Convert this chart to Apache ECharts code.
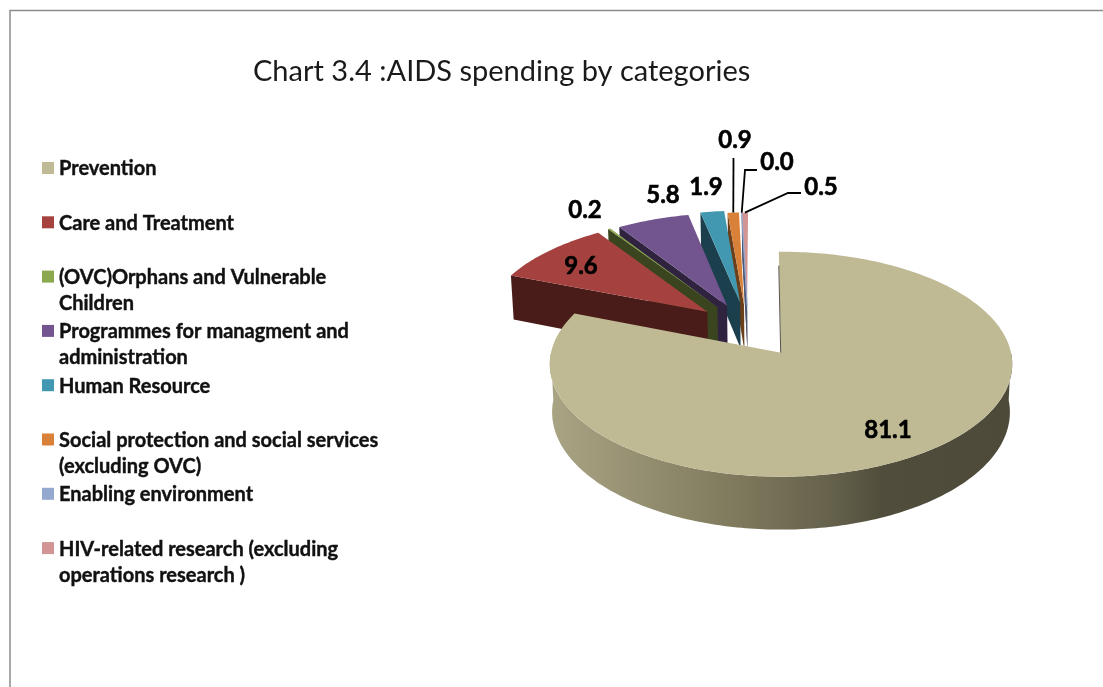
<!DOCTYPE html>
<html>
<head>
<meta charset="utf-8">
<style>html,body{margin:0;padding:0;background:#fff}#c{width:1103px;height:687px}</style>
<script src="https://cdn.jsdelivr.net/npm/echarts@6/dist/echarts.min.js"></script>
</head>
<body>
<div id="c"></div>
<script>
const categories = [
  'Prevention',
  'Care and Treatment',
  '(OVC)Orphans and Vulnerable Children',
  'Programmes for managment and administration',
  'Human Resource',
  'Social protection and social services (excluding OVC)',
  'Enabling environment',
  'HIV-related research (excluding operations research )'
];
const shares = [81.1, 9.6, 0.2, 5.8, 1.9, 0.9, 0.0, 0.5];
const legendSecondLines = ['', '', 'Children', 'administration', '', '(excluding OVC)', '', 'operations research )'];

// Colours of the top surface and of the cut face of each slice.
const topColors = ['#BFBA94', '#A5423F', '#8BA84F', '#72558E', '#4298B0', '#D98138', '#93A9CF', '#D29594'];
const faceColors = ['#55524A', '#4A1C19', '#3A451F', '#2F2340', '#1B3F4C', '#6B3F1A', '#4A5A78', '#6A4A4A'];

// Slice displacement on the pie's plane, in pie radii: [right, away from viewer].
const explode = [[0, 0], [-0.3326, 0.383], [-0.288, 0.425], [-0.245, 0.441], [-0.186, 0.468], [-0.168, 0.447], [-0.154, 0.444], [-0.154, 0.444]];
// Pixel centre of each value label.
const labelCentres = [[888, 430], [581, 266], [585, 210], [663, 195], [706, 187], [735, 140], [777, 162], [821, 187]];
// Leader polylines start at these bends and end on the slice rim.
const leaderStarts = {5: [[733.5, 158]], 6: [[757, 170], [745, 170]], 7: [[801, 193], [788, 193]]};

// Back-to-front painting order; the large slice sits in front of the others.
const paintOrder = [7, 6, 5, 4, 3, 2, 1, 0];

// Perspective view of the pie's plane.
const view = {cx: 781, cy: 352.7, rx: 230, ry: 111.3, k: 0.1022, depth: 47.5, floorScale: 0.99, startDeg: -0.6};

function topPoint(u, v) {
  const w = 1 + view.k * v;
  return [view.cx + view.rx * u / w, view.cy - view.ry * v / w];
}
function floorPoint(u, v) {
  const w = 1 + view.k * v;
  return [view.cx + view.floorScale * view.rx * u / w, view.cy - view.ry * v / w + view.depth / w];
}
function rim(index, deg, radius) {
  const a = deg * Math.PI / 180;
  return [explode[index][0] + radius * Math.sin(a), explode[index][1] + radius * Math.cos(a)];
}
function sweepOf(index) {
  const before = shares.slice(0, index).reduce((s, x) => s + x, 0);
  const startDeg = view.startDeg + before * 3.6;
  return [startDeg, startDeg + shares[index] * 3.6];
}
function arc(index, a0, a1, project) {
  const steps = Math.max(1, Math.ceil(Math.abs(a1 - a0)));
  const pts = [];
  for (let i = 0; i <= steps; i++) {
    const p = rim(index, a0 + (a1 - a0) * i / steps, 1);
    pts.push(project(p[0], p[1]));
  }
  return pts;
}
function poly(points, fill, extra) {
  return {type: 'polygon', silent: true, shape: {points}, style: Object.assign({fill}, extra || {})};
}

const wallGradient = new echarts.graphic.LinearGradient(0, 0, 1, 0, [
  {offset: 0, color: '#A9A484'},
  {offset: 0.2, color: '#958F71'},
  {offset: 0.4, color: '#7F7A5D'},
  {offset: 0.6, color: '#66624C'},
  {offset: 0.72, color: '#504D3C'},
  {offset: 1, color: '#4D4A39'}
]);

function drawSlice(index) {
  const [a0, a1] = sweepOf(index);
  const ex = explode[index];
  const apexTop = topPoint(ex[0], ex[1]);
  const apexFloor = floorPoint(ex[0], ex[1]);
  const outer = arc(index, a0, a1, topPoint);
  const children = [];
  if (index === 0) {
    // Rim wall of the large slice, then the sliver of its cut edge.
    const wallTop = arc(index, 90, 270, topPoint);
    const wallFloor = arc(index, 90, 270, floorPoint).reverse();
    children.push(poly(wallTop.concat(wallFloor), wallGradient));
    const e = rim(index, a0, 0.85);
    const edge = topPoint(e[0], e[1]);
    children.push(poly([apexTop].concat(outer), topColors[0]));
    children.push({type: 'line', silent: true,
      shape: {x1: edge[0] - 0.3, y1: edge[1], x2: apexTop[0] - 0.3, y2: apexTop[1]},
      style: {stroke: faceColors[0], lineWidth: 1}});
  } else {
    const s = rim(index, a0, 1);
    children.push(poly([topPoint(s[0], s[1]), apexTop, apexFloor, floorPoint(s[0], s[1])], faceColors[index]));
    // A zero-share slice still leaves a hairline where its edges coincide.
    children.push(poly([apexTop].concat(outer), topColors[index],
      shares[index] < 0.05 ? {stroke: topColors[index], lineWidth: 0.8} : {}));
  }
  return children;
}

function drawLabel(index, value) {
  const [x, y] = labelCentres[index];
  const children = [];
  if (leaderStarts[index]) {
    const [a0, a1] = sweepOf(index);
    const p = rim(index, (a0 + a1) / 2, 1);
    children.push({type: 'polyline', silent: true, z2: 50,
      shape: {points: leaderStarts[index].concat([topPoint(p[0], p[1])])},
      style: {stroke: '#000', lineWidth: 1.8, fill: null}});
  }
  children.push({type: 'text', silent: true, z2: 60, x, y,
    style: {text: value.toFixed(1), fill: '#000', font: 'bold 24px Lato', align: 'center', verticalAlign: 'middle',
      stroke: '#000', lineWidth: 0.6}});
  return children;
}

const series = paintOrder.map(index => ({
  type: 'custom',
  name: categories[index],
  coordinateSystem: 'none',
  silent: true,
  animation: false,
  z: 2 + paintOrder.indexOf(index),
  itemStyle: {color: topColors[index]},
  data: [[shares[index]]],
  renderItem: (params, api) => ({
    type: 'group',
    children: drawSlice(index).concat(drawLabel(index, api.value(0)))
  })
}));

const chart = echarts.init(document.getElementById('c'), null, {renderer: 'canvas'});
chart.setOption({
  backgroundColor: '#fff',
  animation: false,
  title: {
    text: 'Chart 3.4 :AIDS spending by categories',
    left: 248, top: 52,
    textStyle: {fontFamily: 'Lato', fontWeight: 'normal', fontSize: 29, color: '#1a1a1a'}
  },
  legend: {
    orient: 'vertical',
    left: 37, top: 151,
    itemGap: 2.3,
    itemWidth: 12,
    itemHeight: 52,
    // The swatch sits on the first text line; the outer points stretch the icon's box to two lines.
    icon: 'path://M0 0L0 0M0 6H12V18H0ZM0 52L0 52',
    selectedMode: false,
    data: categories,
    formatter: name => {
      const i = categories.indexOf(name);
      const second = legendSecondLines[i];
      return second ? name.slice(0, name.length - second.length - 1) + '\n' + second : name + '\n ';
    },
    textStyle: {fontFamily: 'Lato', fontWeight: 'bold', fontSize: 20, lineHeight: 26, color: '#111',
      textBorderColor: '#111', textBorderWidth: 0.4}
  },
  graphic: [{
    type: 'polyline', silent: true,
    shape: {points: [[1110, 10.5], [10, 10.5], [10, 700]]},
    style: {stroke: '#8C8C8C', lineWidth: 1.5, fill: null}
  }],
  series
});
</script>
</body>
</html>
